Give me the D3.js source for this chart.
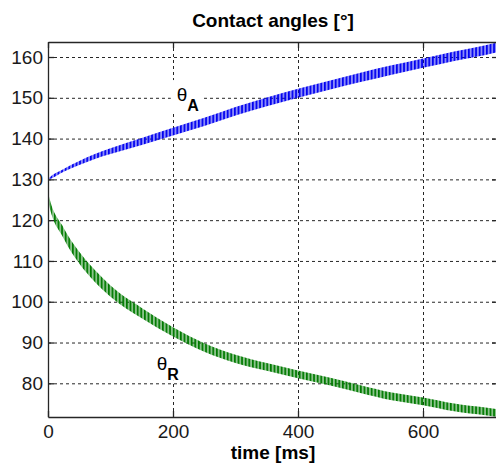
<!DOCTYPE html>
<html>
<head>
<meta charset="utf-8">
<script src="https://cdn.jsdelivr.net/npm/d3@7"></script>
<style>
  html, body { margin: 0; padding: 0; background: #fff; }
  svg { display: block; font-family: "Liberation Sans", Arial, sans-serif; }
</style>
</head>
<body>
<svg id="chart" width="496" height="470"></svg>
<script>
// Sample times (ms) at which the two contact angles are tabulated
const timeMs = [0, 1, 25, 50, 75, 100, 150, 200, 250, 300, 350, 400, 450, 500, 550, 600, 650, 700, 720];
// Advancing angle θA: mean value and half-width of its oscillation band (degrees)
const advancing = [130.0, 130.1, 132.2, 134.0, 135.6, 136.9, 139.3, 141.7, 144.1, 146.7, 149.0, 151.1, 153.1, 155.0, 156.8, 158.5, 160.2, 161.7, 162.4];
const advSwing  = [0.15, 0.2, 0.35, 0.5, 0.6, 0.7, 0.85, 0.95, 1.0, 1.05, 1.1, 1.1, 1.1, 1.15, 1.15, 1.15, 1.15, 1.2, 1.2];
// Receding angle θR: mean value and half-width of its oscillation band (degrees)
const receding  = [130.0, 125.2, 116.8, 110.8, 106.3, 102.6, 97.2, 92.6, 88.8, 86.0, 84.0, 82.2, 80.5, 78.6, 76.8, 75.6, 74.1, 73.1, 72.7];
const recSwing  = [0.15, 1.0, 1.3, 1.45, 1.45, 1.35, 1.25, 1.15, 1.05, 1.0, 0.95, 0.95, 0.95, 0.95, 0.95, 0.95, 0.95, 0.95, 0.95];

// Axis ticks and labels
const xTicks = [0, 200, 400, 600];
const yTicks = [80, 90, 100, 110, 120, 130, 140, 150, 160];
const xDomain = [0, 720];
const yDomain = [71.74, 163.68];
const titleText = "Contact angles [°]";
const xLabelText = "time [ms]";

const svg = d3.select("#chart");
const margin = { left: 48, top: 42, right: -2, bottom: 53 };
const W = 496, H = 470;
const x = d3.scaleLinear().domain(xDomain).range([margin.left, W - margin.right]);
const y = d3.scaleLinear().domain(yDomain).range([H - margin.bottom, margin.top]);
const plotW = x.range()[1] - x.range()[0];
const plotH = y.range()[0] - y.range()[1];

const defs = svg.append("defs");
defs.append("clipPath").attr("id", "plot-clip")
  .append("rect")
  .attr("x", x.range()[0]).attr("y", y.range()[1])
  .attr("width", plotW).attr("height", plotH);

// Striped fills that give the bands their dense oscillating texture
function stripePattern(id, color) {
  const p = defs.append("pattern")
    .attr("id", id)
    .attr("patternUnits", "userSpaceOnUse")
    .attr("width", 3.6).attr("height", 10);
  p.append("rect").attr("width", 3.6).attr("height", 10).attr("fill", color).attr("opacity", 0.45);
  p.append("rect").attr("width", 1.7).attr("height", 10).attr("fill", color);
}
stripePattern("stripe-a", "#0000f0");
stripePattern("stripe-r", "#007a00");

// Grid (dotted)
const grid = svg.append("g").attr("class", "grid");
grid.append("g")
  .attr("transform", `translate(${x.range()[0]},0)`)
  .call(d3.axisLeft(y).tickValues(yTicks).tickSize(-plotW).tickFormat(""))
  .call(g => g.select(".domain").remove());
grid.append("g")
  .attr("transform", `translate(0,${y.range()[1]})`)
  .call(d3.axisBottom(x).tickValues(xTicks.filter(d => d > 0)).tickSize(plotH).tickFormat(""))
  .call(g => g.select(".domain").remove());
grid.selectAll("line")
  .attr("stroke", "#262626")
  .attr("stroke-width", 1)
  .attr("stroke-dasharray", "3,3");

// Bands
const series = [
  { values: advancing, swing: advSwing, fill: "url(#stripe-a)" },
  { values: receding, swing: recSwing, fill: "url(#stripe-r)" }
];
const plot = svg.append("g").attr("clip-path", "url(#plot-clip)");
series.forEach(s => {
  const rows = timeMs.map((t, i) => ({ t, v: s.values[i], w: s.swing[i] }));
  const area = d3.area()
    .x(d => x(d.t))
    .y0(d => y(d.v - d.w))
    .y1(d => y(d.v + d.w))
    .curve(d3.curveMonotoneX);
  plot.append("path").datum(rows).attr("d", area).attr("fill", s.fill);
});

// Axes with inward ticks
const axisColor = "#262626";
function styleAxis(g) {
  g.select(".domain").attr("stroke", axisColor).attr("stroke-width", 1.3);
  g.selectAll(".tick line").attr("stroke", axisColor).attr("stroke-width", 1.3);
  g.selectAll(".tick text")
    .attr("fill", "#1a1a1a")
    .style("font-size", "19px")
    .style("font-family", "'Liberation Sans', Arial, sans-serif");
}
svg.append("g")
  .attr("transform", `translate(${x.range()[0]},0)`)
  .call(d3.axisLeft(y).tickValues(yTicks).tickSizeInner(-6).tickSizeOuter(0).tickPadding(5))
  .call(styleAxis);
svg.append("g")
  .attr("transform", `translate(0,${y.range()[0]})`)
  .call(d3.axisBottom(x).tickValues(xTicks).tickSizeInner(-6).tickSizeOuter(0).tickPadding(8))
  .call(styleAxis);
svg.append("g")
  .attr("transform", `translate(0,${y.range()[1]})`)
  .call(d3.axisTop(x).tickValues(xTicks).tickSizeInner(-6).tickSizeOuter(0).tickFormat(""))
  .call(styleAxis);
svg.append("g")
  .attr("transform", `translate(${x.range()[1]},0)`)
  .call(d3.axisRight(y).tickValues(yTicks).tickSizeInner(-6).tickSizeOuter(0).tickFormat(""))
  .call(styleAxis);

// Series labels with white backing boxes
function seriesLabel(px, py, sub) {
  const g = svg.append("g");
  const bg = g.append("rect").attr("fill", "#fff");
  const t = g.append("text")
    .attr("x", px).attr("y", py)
    .attr("fill", "#000")
    .style("font-size", "19px");
  t.append("tspan").text("θ");
  t.append("tspan").attr("dy", 10).style("font-size", "16px").style("font-weight", "bold").text(sub);
  const b = t.node().getBBox();
  bg.attr("x", b.x - 6).attr("y", b.y - 4).attr("width", b.width + 10).attr("height", b.height + 2);
}
seriesLabel(x(206), y(149.2), "A");
seriesLabel(x(174), y(83.3), "R");

// Title and x-axis label
svg.append("text")
  .attr("x", (x.range()[0] + x.range()[1]) / 2).attr("y", 27)
  .attr("text-anchor", "middle")
  .style("font-size", "19px").style("font-weight", "bold")
  .text(titleText);
svg.append("text")
  .attr("x", (x.range()[0] + x.range()[1]) / 2).attr("y", 459)
  .attr("text-anchor", "middle")
  .style("font-size", "19px").style("font-weight", "bold")
  .text(xLabelText);
</script>
</body>
</html>
